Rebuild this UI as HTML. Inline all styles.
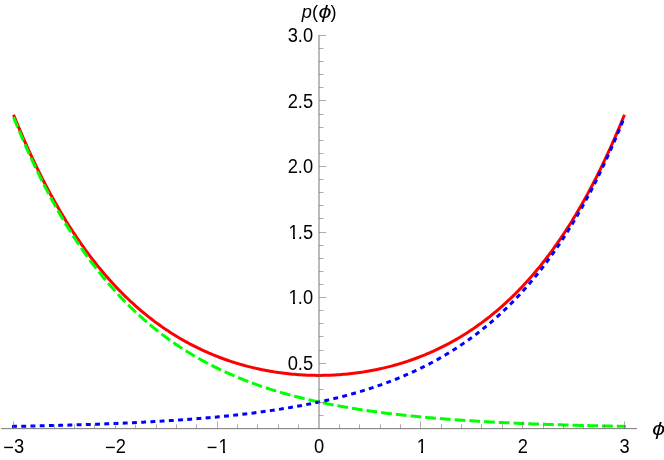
<!DOCTYPE html><html><head><meta charset="utf-8"><title>plot</title><style>html,body{margin:0;padding:0;background:#fff;}svg{display:block;will-change:transform;}text{font-family:"Liberation Sans",sans-serif;fill:#000;}</style></head><body>
<svg width="664" height="460" viewBox="0 0 664 460">
<rect width="664" height="460" fill="#fff"/>
<g fill="none" stroke-linejoin="round">
<path d="M13.54,114.73 L15.58,119.76 L17.61,124.71 L19.65,129.57 L21.69,134.36 L23.72,139.07 L25.76,143.69 L27.79,148.25 L29.83,152.72 L31.87,157.13 L33.90,161.46 L35.94,165.71 L37.98,169.90 L40.01,174.02 L42.05,178.07 L44.09,182.05 L46.12,185.96 L48.16,189.81 L50.20,193.60 L52.23,197.32 L54.27,200.98 L56.30,204.58 L58.34,208.12 L60.38,211.60 L62.41,215.02 L64.45,218.39 L66.49,221.69 L68.52,224.95 L70.56,228.14 L72.60,231.29 L74.63,234.38 L76.67,237.41 L78.70,240.40 L80.74,243.33 L82.78,246.22 L84.81,249.06 L86.85,251.85 L88.89,254.59 L90.92,257.28 L92.96,259.93 L95.00,262.53 L97.03,265.09 L99.07,267.60 L101.11,270.07 L103.14,272.50 L105.18,274.89 L107.21,277.23 L109.25,279.54 L111.29,281.80 L113.32,284.02 L115.36,286.21 L117.40,288.36 L119.43,290.47 L121.47,292.54 L123.51,294.57 L125.54,296.57 L127.58,298.54 L129.61,300.47 L131.65,302.36 L133.69,304.22 L135.72,306.05 L137.76,307.84 L139.80,309.61 L141.83,311.34 L143.87,313.03 L145.91,314.70 L147.94,316.34 L149.98,317.94 L152.02,319.52 L154.05,321.07 L156.09,322.59 L158.12,324.08 L160.16,325.54 L162.20,326.97 L164.23,328.38 L166.27,329.76 L168.31,331.11 L170.34,332.44 L172.38,333.74 L174.42,335.01 L176.45,336.27 L178.49,337.49 L180.52,338.69 L182.56,339.87 L184.60,341.02 L186.63,342.15 L188.67,343.26 L190.71,344.34 L192.74,345.40 L194.78,346.44 L196.82,347.45 L198.85,348.45 L200.89,349.42 L202.93,350.37 L204.96,351.30 L207.00,352.21 L209.03,353.10 L211.07,353.97 L213.11,354.82 L215.14,355.64 L217.18,356.45 L219.22,357.24 L221.25,358.01 L223.29,358.76 L225.33,359.50 L227.36,360.21 L229.40,360.91 L231.43,361.58 L233.47,362.24 L235.51,362.88 L237.54,363.51 L239.58,364.11 L241.62,364.70 L243.65,365.27 L245.69,365.83 L247.73,366.37 L249.76,366.89 L251.80,367.39 L253.84,367.88 L255.87,368.35 L257.91,368.81 L259.94,369.25 L261.98,369.67 L264.02,370.08 L266.05,370.47 L268.09,370.84 L270.13,371.20 L272.16,371.55 L274.20,371.88 L276.24,372.19 L278.27,372.49 L280.31,372.78 L282.34,373.05 L284.38,373.30 L286.42,373.54 L288.45,373.76 L290.49,373.97 L292.53,374.17 L294.56,374.35 L296.60,374.51 L298.64,374.67 L300.67,374.80 L302.71,374.92 L304.75,375.03 L306.78,375.13 L308.82,375.20 L310.85,375.27 L312.89,375.32 L314.93,375.35 L316.96,375.38 L319.00,375.38 L321.04,375.38 L323.07,375.35 L325.11,375.32 L327.15,375.27 L329.18,375.20 L331.22,375.13 L333.25,375.03 L335.29,374.92 L337.33,374.80 L339.36,374.67 L341.40,374.51 L343.44,374.35 L345.47,374.17 L347.51,373.97 L349.55,373.76 L351.58,373.54 L353.62,373.30 L355.66,373.05 L357.69,372.78 L359.73,372.49 L361.76,372.19 L363.80,371.88 L365.84,371.55 L367.87,371.20 L369.91,370.84 L371.95,370.47 L373.98,370.08 L376.02,369.67 L378.06,369.25 L380.09,368.81 L382.13,368.35 L384.16,367.88 L386.20,367.39 L388.24,366.89 L390.27,366.37 L392.31,365.83 L394.35,365.27 L396.38,364.70 L398.42,364.11 L400.46,363.51 L402.49,362.88 L404.53,362.24 L406.57,361.58 L408.60,360.91 L410.64,360.21 L412.67,359.50 L414.71,358.76 L416.75,358.01 L418.78,357.24 L420.82,356.45 L422.86,355.64 L424.89,354.82 L426.93,353.97 L428.97,353.10 L431.00,352.21 L433.04,351.30 L435.07,350.37 L437.11,349.42 L439.15,348.45 L441.18,347.45 L443.22,346.44 L445.26,345.40 L447.29,344.34 L449.33,343.26 L451.37,342.15 L453.40,341.02 L455.44,339.87 L457.48,338.69 L459.51,337.49 L461.55,336.27 L463.58,335.01 L465.62,333.74 L467.66,332.44 L469.69,331.11 L471.73,329.76 L473.77,328.38 L475.80,326.97 L477.84,325.54 L479.88,324.08 L481.91,322.59 L483.95,321.07 L485.98,319.52 L488.02,317.94 L490.06,316.34 L492.09,314.70 L494.13,313.03 L496.17,311.34 L498.20,309.61 L500.24,307.84 L502.28,306.05 L504.31,304.22 L506.35,302.36 L508.39,300.47 L510.42,298.54 L512.46,296.57 L514.49,294.57 L516.53,292.54 L518.57,290.47 L520.60,288.36 L522.64,286.21 L524.68,284.02 L526.71,281.80 L528.75,279.54 L530.79,277.23 L532.82,274.89 L534.86,272.50 L536.89,270.07 L538.93,267.60 L540.97,265.09 L543.00,262.53 L545.04,259.93 L547.08,257.28 L549.11,254.59 L551.15,251.85 L553.19,249.06 L555.22,246.22 L557.26,243.33 L559.30,240.40 L561.33,237.41 L563.37,234.38 L565.40,231.29 L567.44,228.14 L569.48,224.95 L571.51,221.69 L573.55,218.39 L575.59,215.02 L577.62,211.60 L579.66,208.12 L581.70,204.58 L583.73,200.98 L585.77,197.32 L587.80,193.60 L589.84,189.81 L591.88,185.96 L593.91,182.05 L595.95,178.07 L597.99,174.02 L600.02,169.90 L602.06,165.71 L604.10,161.46 L606.13,157.13 L608.17,152.72 L610.21,148.25 L612.24,143.69 L614.28,139.07 L616.31,134.36 L618.35,129.57 L620.39,124.71 L622.42,119.76 L624.46,114.73" stroke="#ff0000" stroke-width="3"/>
<path d="M13.54,117.00 L15.58,122.07 L17.61,127.06 L19.65,131.96 L21.69,136.79 L23.72,141.54 L25.76,146.21 L27.79,150.80 L29.83,155.32 L31.87,159.76 L33.90,164.14 L35.94,168.44 L37.98,172.67 L40.01,176.84 L42.05,180.93 L44.09,184.96 L46.12,188.92 L48.16,192.82 L50.20,196.66 L52.23,200.43 L54.27,204.14 L56.30,207.79 L58.34,211.39 L60.38,214.92 L62.41,218.40 L64.45,221.82 L66.49,225.18 L68.52,228.49 L70.56,231.74 L72.60,234.95 L74.63,238.10 L76.67,241.20 L78.70,244.25 L80.74,247.24 L82.78,250.20 L84.81,253.10 L86.85,255.95 L88.89,258.76 L90.92,261.52 L92.96,264.24 L95.00,266.92 L97.03,269.55 L99.07,272.14 L101.11,274.68 L103.14,277.18 L105.18,279.65 L107.21,282.07 L109.25,284.46 L111.29,286.80 L113.32,289.11 L115.36,291.38 L117.40,293.61 L119.43,295.81 L121.47,297.97 L123.51,300.09 L125.54,302.18 L127.58,304.24 L129.61,306.26 L131.65,308.25 L133.69,310.21 L135.72,312.14 L137.76,314.03 L139.80,315.90 L141.83,317.73 L143.87,319.54 L145.91,321.31 L147.94,323.06 L149.98,324.77 L152.02,326.46 L154.05,328.13 L156.09,329.76 L158.12,331.37 L160.16,332.95 L162.20,334.51 L164.23,336.04 L166.27,337.54 L168.31,339.03 L170.34,340.48 L172.38,341.92 L174.42,343.33 L176.45,344.72 L178.49,346.08 L180.52,347.42 L182.56,348.75 L184.60,350.05 L186.63,351.32 L188.67,352.58 L190.71,353.82 L192.74,355.04 L194.78,356.23 L196.82,357.41 L198.85,358.57 L200.89,359.71 L202.93,360.83 L204.96,361.93 L207.00,363.02 L209.03,364.09 L211.07,365.14 L213.11,366.17 L215.14,367.19 L217.18,368.18 L219.22,369.17 L221.25,370.14 L223.29,371.09 L225.33,372.02 L227.36,372.94 L229.40,373.85 L231.43,374.74 L233.47,375.62 L235.51,376.48 L237.54,377.33 L239.58,378.16 L241.62,378.99 L243.65,379.79 L245.69,380.59 L247.73,381.37 L249.76,382.14 L251.80,382.90 L253.84,383.64 L255.87,384.37 L257.91,385.09 L259.94,385.80 L261.98,386.50 L264.02,387.18 L266.05,387.86 L268.09,388.52 L270.13,389.17 L272.16,389.82 L274.20,390.45 L276.24,391.07 L278.27,391.68 L280.31,392.28 L282.34,392.87 L284.38,393.45 L286.42,394.03 L288.45,394.59 L290.49,395.14 L292.53,395.69 L294.56,396.22 L296.60,396.75 L298.64,397.27 L300.67,397.78 L302.71,398.28 L304.75,398.78 L306.78,399.26 L308.82,399.74 L310.85,400.21 L312.89,400.67 L314.93,401.13 L316.96,401.58 L319.00,402.02 L321.04,402.45 L323.07,402.88 L325.11,403.30 L327.15,403.71 L329.18,404.11 L331.22,404.51 L333.25,404.90 L335.29,405.29 L337.33,405.67 L339.36,406.04 L341.40,406.41 L343.44,406.77 L345.47,407.13 L347.51,407.48 L349.55,407.82 L351.58,408.16 L353.62,408.50 L355.66,408.82 L357.69,409.15 L359.73,409.46 L361.76,409.78 L363.80,410.08 L365.84,410.38 L367.87,410.68 L369.91,410.97 L371.95,411.26 L373.98,411.54 L376.02,411.82 L378.06,412.10 L380.09,412.37 L382.13,412.63 L384.16,412.89 L386.20,413.15 L388.24,413.40 L390.27,413.65 L392.31,413.89 L394.35,414.13 L396.38,414.37 L398.42,414.60 L400.46,414.83 L402.49,415.05 L404.53,415.27 L406.57,415.49 L408.60,415.71 L410.64,415.92 L412.67,416.12 L414.71,416.33 L416.75,416.53 L418.78,416.72 L420.82,416.92 L422.86,417.11 L424.89,417.30 L426.93,417.48 L428.97,417.66 L431.00,417.84 L433.04,418.02 L435.07,418.19 L437.11,418.36 L439.15,418.53 L441.18,418.69 L443.22,418.85 L445.26,419.01 L447.29,419.17 L449.33,419.33 L451.37,419.48 L453.40,419.63 L455.44,419.77 L457.48,419.92 L459.51,420.06 L461.55,420.20 L463.58,420.34 L465.62,420.47 L467.66,420.60 L469.69,420.74 L471.73,420.86 L473.77,420.99 L475.80,421.12 L477.84,421.24 L479.88,421.36 L481.91,421.48 L483.95,421.59 L485.98,421.71 L488.02,421.82 L490.06,421.93 L492.09,422.04 L494.13,422.15 L496.17,422.25 L498.20,422.36 L500.24,422.46 L502.28,422.56 L504.31,422.66 L506.35,422.76 L508.39,422.85 L510.42,422.95 L512.46,423.04 L514.49,423.13 L516.53,423.22 L518.57,423.31 L520.60,423.40 L522.64,423.48 L524.68,423.57 L526.71,423.65 L528.75,423.73 L530.79,423.81 L532.82,423.89 L534.86,423.97 L536.89,424.04 L538.93,424.12 L540.97,424.19 L543.00,424.26 L545.04,424.34 L547.08,424.41 L549.11,424.47 L551.15,424.54 L553.19,424.61 L555.22,424.68 L557.26,424.74 L559.30,424.80 L561.33,424.87 L563.37,424.93 L565.40,424.99 L567.44,425.05 L569.48,425.11 L571.51,425.16 L573.55,425.22 L575.59,425.28 L577.62,425.33 L579.66,425.39 L581.70,425.44 L583.73,425.49 L585.77,425.54 L587.80,425.59 L589.84,425.64 L591.88,425.69 L593.91,425.74 L595.95,425.79 L597.99,425.83 L600.02,425.88 L602.06,425.92 L604.10,425.97 L606.13,426.01 L608.17,426.05 L610.21,426.10 L612.24,426.14 L614.28,426.18 L616.31,426.22 L618.35,426.26 L620.39,426.30 L622.42,426.34 L624.46,426.37" stroke="#00ff00" stroke-width="3" stroke-linecap="square" stroke-dasharray="7.8 6.96" stroke-dashoffset="-1.6"/>
<path d="M13.54,426.37 L15.58,426.34 L17.61,426.30 L19.65,426.26 L21.69,426.22 L23.72,426.18 L25.76,426.14 L27.79,426.10 L29.83,426.05 L31.87,426.01 L33.90,425.97 L35.94,425.92 L37.98,425.88 L40.01,425.83 L42.05,425.79 L44.09,425.74 L46.12,425.69 L48.16,425.64 L50.20,425.59 L52.23,425.54 L54.27,425.49 L56.30,425.44 L58.34,425.39 L60.38,425.33 L62.41,425.28 L64.45,425.22 L66.49,425.16 L68.52,425.11 L70.56,425.05 L72.60,424.99 L74.63,424.93 L76.67,424.87 L78.70,424.80 L80.74,424.74 L82.78,424.68 L84.81,424.61 L86.85,424.54 L88.89,424.47 L90.92,424.41 L92.96,424.34 L95.00,424.26 L97.03,424.19 L99.07,424.12 L101.11,424.04 L103.14,423.97 L105.18,423.89 L107.21,423.81 L109.25,423.73 L111.29,423.65 L113.32,423.57 L115.36,423.48 L117.40,423.40 L119.43,423.31 L121.47,423.22 L123.51,423.13 L125.54,423.04 L127.58,422.95 L129.61,422.85 L131.65,422.76 L133.69,422.66 L135.72,422.56 L137.76,422.46 L139.80,422.36 L141.83,422.25 L143.87,422.15 L145.91,422.04 L147.94,421.93 L149.98,421.82 L152.02,421.71 L154.05,421.59 L156.09,421.48 L158.12,421.36 L160.16,421.24 L162.20,421.12 L164.23,420.99 L166.27,420.86 L168.31,420.74 L170.34,420.60 L172.38,420.47 L174.42,420.34 L176.45,420.20 L178.49,420.06 L180.52,419.92 L182.56,419.77 L184.60,419.63 L186.63,419.48 L188.67,419.33 L190.71,419.17 L192.74,419.01 L194.78,418.85 L196.82,418.69 L198.85,418.53 L200.89,418.36 L202.93,418.19 L204.96,418.02 L207.00,417.84 L209.03,417.66 L211.07,417.48 L213.11,417.30 L215.14,417.11 L217.18,416.92 L219.22,416.72 L221.25,416.53 L223.29,416.33 L225.33,416.12 L227.36,415.92 L229.40,415.71 L231.43,415.49 L233.47,415.27 L235.51,415.05 L237.54,414.83 L239.58,414.60 L241.62,414.37 L243.65,414.13 L245.69,413.89 L247.73,413.65 L249.76,413.40 L251.80,413.15 L253.84,412.89 L255.87,412.63 L257.91,412.37 L259.94,412.10 L261.98,411.82 L264.02,411.54 L266.05,411.26 L268.09,410.97 L270.13,410.68 L272.16,410.38 L274.20,410.08 L276.24,409.78 L278.27,409.46 L280.31,409.15 L282.34,408.82 L284.38,408.50 L286.42,408.16 L288.45,407.82 L290.49,407.48 L292.53,407.13 L294.56,406.77 L296.60,406.41 L298.64,406.04 L300.67,405.67 L302.71,405.29 L304.75,404.90 L306.78,404.51 L308.82,404.11 L310.85,403.71 L312.89,403.30 L314.93,402.88 L316.96,402.45 L319.00,402.02 L321.04,401.58 L323.07,401.13 L325.11,400.67 L327.15,400.21 L329.18,399.74 L331.22,399.26 L333.25,398.78 L335.29,398.28 L337.33,397.78 L339.36,397.27 L341.40,396.75 L343.44,396.22 L345.47,395.69 L347.51,395.14 L349.55,394.59 L351.58,394.03 L353.62,393.45 L355.66,392.87 L357.69,392.28 L359.73,391.68 L361.76,391.07 L363.80,390.45 L365.84,389.82 L367.87,389.17 L369.91,388.52 L371.95,387.86 L373.98,387.18 L376.02,386.50 L378.06,385.80 L380.09,385.09 L382.13,384.37 L384.16,383.64 L386.20,382.90 L388.24,382.14 L390.27,381.37 L392.31,380.59 L394.35,379.79 L396.38,378.99 L398.42,378.16 L400.46,377.33 L402.49,376.48 L404.53,375.62 L406.57,374.74 L408.60,373.85 L410.64,372.94 L412.67,372.02 L414.71,371.09 L416.75,370.14 L418.78,369.17 L420.82,368.18 L422.86,367.19 L424.89,366.17 L426.93,365.14 L428.97,364.09 L431.00,363.02 L433.04,361.93 L435.07,360.83 L437.11,359.71 L439.15,358.57 L441.18,357.41 L443.22,356.23 L445.26,355.04 L447.29,353.82 L449.33,352.58 L451.37,351.32 L453.40,350.05 L455.44,348.75 L457.48,347.42 L459.51,346.08 L461.55,344.72 L463.58,343.33 L465.62,341.92 L467.66,340.48 L469.69,339.03 L471.73,337.54 L473.77,336.04 L475.80,334.51 L477.84,332.95 L479.88,331.37 L481.91,329.76 L483.95,328.13 L485.98,326.46 L488.02,324.77 L490.06,323.06 L492.09,321.31 L494.13,319.54 L496.17,317.73 L498.20,315.90 L500.24,314.03 L502.28,312.14 L504.31,310.21 L506.35,308.25 L508.39,306.26 L510.42,304.24 L512.46,302.18 L514.49,300.09 L516.53,297.97 L518.57,295.81 L520.60,293.61 L522.64,291.38 L524.68,289.11 L526.71,286.80 L528.75,284.46 L530.79,282.07 L532.82,279.65 L534.86,277.18 L536.89,274.68 L538.93,272.14 L540.97,269.55 L543.00,266.92 L545.04,264.24 L547.08,261.52 L549.11,258.76 L551.15,255.95 L553.19,253.10 L555.22,250.20 L557.26,247.24 L559.30,244.25 L561.33,241.20 L563.37,238.10 L565.40,234.95 L567.44,231.74 L569.48,228.49 L571.51,225.18 L573.55,221.82 L575.59,218.40 L577.62,214.92 L579.66,211.39 L581.70,207.79 L583.73,204.14 L585.77,200.43 L587.80,196.66 L589.84,192.82 L591.88,188.92 L593.91,184.96 L595.95,180.93 L597.99,176.84 L600.02,172.67 L602.06,168.44 L604.10,164.14 L606.13,159.76 L608.17,155.32 L610.21,150.80 L612.24,146.21 L614.28,141.54 L616.31,136.79 L618.35,131.96 L620.39,127.06 L622.42,122.07 L624.46,117.00" stroke="#0000ff" stroke-width="3" stroke-linecap="square" stroke-dasharray="1.9 7.33"/>
</g>
<g stroke="#666666" stroke-width="0.9" fill="none">
<line x1="1.20" y1="428.65" x2="637.00" y2="428.65"/>
<line x1="319.00" y1="35.20" x2="319.00" y2="428.65"/>
</g><g stroke="#666666" stroke-width="0.55" fill="none">
<line x1="13.50" y1="428.65" x2="13.50" y2="421.35"/>
<line x1="33.50" y1="428.65" x2="33.50" y2="424.35"/>
<line x1="54.50" y1="428.65" x2="54.50" y2="424.35"/>
<line x1="74.50" y1="428.65" x2="74.50" y2="424.35"/>
<line x1="94.50" y1="428.65" x2="94.50" y2="424.35"/>
<line x1="115.50" y1="428.65" x2="115.50" y2="421.35"/>
<line x1="135.50" y1="428.65" x2="135.50" y2="424.35"/>
<line x1="156.50" y1="428.65" x2="156.50" y2="424.35"/>
<line x1="176.50" y1="428.65" x2="176.50" y2="424.35"/>
<line x1="196.50" y1="428.65" x2="196.50" y2="424.35"/>
<line x1="217.50" y1="428.65" x2="217.50" y2="421.35"/>
<line x1="237.50" y1="428.65" x2="237.50" y2="424.35"/>
<line x1="257.50" y1="428.65" x2="257.50" y2="424.35"/>
<line x1="278.50" y1="428.65" x2="278.50" y2="424.35"/>
<line x1="298.50" y1="428.65" x2="298.50" y2="424.35"/>
<line x1="339.50" y1="428.65" x2="339.50" y2="424.35"/>
<line x1="359.50" y1="428.65" x2="359.50" y2="424.35"/>
<line x1="380.50" y1="428.65" x2="380.50" y2="424.35"/>
<line x1="400.50" y1="428.65" x2="400.50" y2="424.35"/>
<line x1="420.50" y1="428.65" x2="420.50" y2="421.35"/>
<line x1="441.50" y1="428.65" x2="441.50" y2="424.35"/>
<line x1="461.50" y1="428.65" x2="461.50" y2="424.35"/>
<line x1="481.50" y1="428.65" x2="481.50" y2="424.35"/>
<line x1="502.50" y1="428.65" x2="502.50" y2="424.35"/>
<line x1="522.50" y1="428.65" x2="522.50" y2="421.35"/>
<line x1="543.50" y1="428.65" x2="543.50" y2="424.35"/>
<line x1="563.50" y1="428.65" x2="563.50" y2="424.35"/>
<line x1="583.50" y1="428.65" x2="583.50" y2="424.35"/>
<line x1="604.50" y1="428.65" x2="604.50" y2="424.35"/>
<line x1="624.50" y1="428.65" x2="624.50" y2="421.35"/>
<line x1="319.00" y1="415.50" x2="323.50" y2="415.50"/>
<line x1="319.00" y1="402.50" x2="323.50" y2="402.50"/>
<line x1="319.00" y1="389.50" x2="323.50" y2="389.50"/>
<line x1="319.00" y1="376.50" x2="323.50" y2="376.50"/>
<line x1="319.00" y1="363.50" x2="326.30" y2="363.50"/>
<line x1="319.00" y1="350.50" x2="323.50" y2="350.50"/>
<line x1="319.00" y1="336.50" x2="323.50" y2="336.50"/>
<line x1="319.00" y1="323.50" x2="323.50" y2="323.50"/>
<line x1="319.00" y1="310.50" x2="323.50" y2="310.50"/>
<line x1="319.00" y1="297.50" x2="326.30" y2="297.50"/>
<line x1="319.00" y1="284.50" x2="323.50" y2="284.50"/>
<line x1="319.00" y1="271.50" x2="323.50" y2="271.50"/>
<line x1="319.00" y1="258.50" x2="323.50" y2="258.50"/>
<line x1="319.00" y1="245.50" x2="323.50" y2="245.50"/>
<line x1="319.00" y1="232.50" x2="326.30" y2="232.50"/>
<line x1="319.00" y1="218.50" x2="323.50" y2="218.50"/>
<line x1="319.00" y1="205.50" x2="323.50" y2="205.50"/>
<line x1="319.00" y1="192.50" x2="323.50" y2="192.50"/>
<line x1="319.00" y1="179.50" x2="323.50" y2="179.50"/>
<line x1="319.00" y1="166.50" x2="326.30" y2="166.50"/>
<line x1="319.00" y1="153.50" x2="323.50" y2="153.50"/>
<line x1="319.00" y1="140.50" x2="323.50" y2="140.50"/>
<line x1="319.00" y1="127.50" x2="323.50" y2="127.50"/>
<line x1="319.00" y1="114.50" x2="323.50" y2="114.50"/>
<line x1="319.00" y1="100.50" x2="326.30" y2="100.50"/>
<line x1="319.00" y1="87.50" x2="323.50" y2="87.50"/>
<line x1="319.00" y1="74.50" x2="323.50" y2="74.50"/>
<line x1="319.00" y1="61.50" x2="323.50" y2="61.50"/>
<line x1="319.00" y1="48.50" x2="323.50" y2="48.50"/>
<line x1="319.00" y1="35.50" x2="326.30" y2="35.50"/>
</g>
<g font-size="18.80">
<g transform="translate(13.64,453.25) scale(0.975,1.050)"><text x="0" y="0" text-anchor="middle"><tspan dy="0.95">−</tspan><tspan dy="-0.95">3</tspan></text></g>
<g transform="translate(115.46,453.25) scale(0.975,1.050)"><text x="0" y="0" text-anchor="middle"><tspan dy="0.95">−</tspan><tspan dy="-0.95">2</tspan></text></g>
<g transform="translate(217.28,453.25) scale(0.975,1.050)"><text x="-10.72" y="0.95">−</text><text x="1.16" y="0">1</text></g><rect x="219.01" y="449.85" width="3.99" height="4.6" fill="#fff"/><rect x="225.00" y="449.85" width="3.51" height="4.6" fill="#fff"/>
<g transform="translate(319.10,453.25) scale(0.975,1.050)"><text x="0" y="0" text-anchor="middle">0</text></g>
<g transform="translate(420.92,453.25) scale(0.975,1.050)"><text x="-4.33" y="0">1</text></g><rect x="417.30" y="449.85" width="3.70" height="4.6" fill="#fff"/><rect x="423.00" y="449.85" width="3.80" height="4.6" fill="#fff"/>
<g transform="translate(522.74,453.25) scale(0.975,1.050)"><text x="0" y="0" text-anchor="middle">2</text></g>
<g transform="translate(624.56,453.25) scale(0.975,1.050)"><text x="0" y="0" text-anchor="middle">3</text></g>
<g transform="translate(313.10,369.75) scale(0.975,1.050)"><text x="0" y="0" text-anchor="end">0.5</text></g>
<g transform="translate(313.10,304.21) scale(0.975,1.050)"><text x="-15.68" y="0">.0</text><text x="-25.23" y="0">1</text></g><rect x="289.09" y="300.81" width="3.91" height="4.6" fill="#fff"/><rect x="295.00" y="300.81" width="3.60" height="4.6" fill="#fff"/>
<g transform="translate(313.10,238.68) scale(0.975,1.050)"><text x="-15.68" y="0">.5</text><text x="-25.23" y="0">1</text></g><rect x="289.09" y="235.28" width="3.91" height="4.6" fill="#fff"/><rect x="295.00" y="235.28" width="3.60" height="4.6" fill="#fff"/>
<g transform="translate(313.10,173.14) scale(0.975,1.050)"><text x="0" y="0" text-anchor="end">2.0</text></g>
<g transform="translate(313.10,107.61) scale(0.975,1.050)"><text x="0" y="0" text-anchor="end">2.5</text></g>
<g transform="translate(313.10,42.07) scale(0.975,1.050)"><text x="0" y="0" text-anchor="end">3.0</text></g>
</g><g font-size="18.2">
<text x="301.7" y="18.3" font-style="italic">p</text>
<text x="311.9" y="18.3">(</text>
<text transform="translate(318.6,18.3) scale(1.280,1)" font-style="italic">ϕ</text>
<text x="330.6" y="18.3">)</text>
<text transform="translate(652.3,435.2) scale(1.280,1)" font-style="italic">ϕ</text>
</g>
</svg></body></html>
